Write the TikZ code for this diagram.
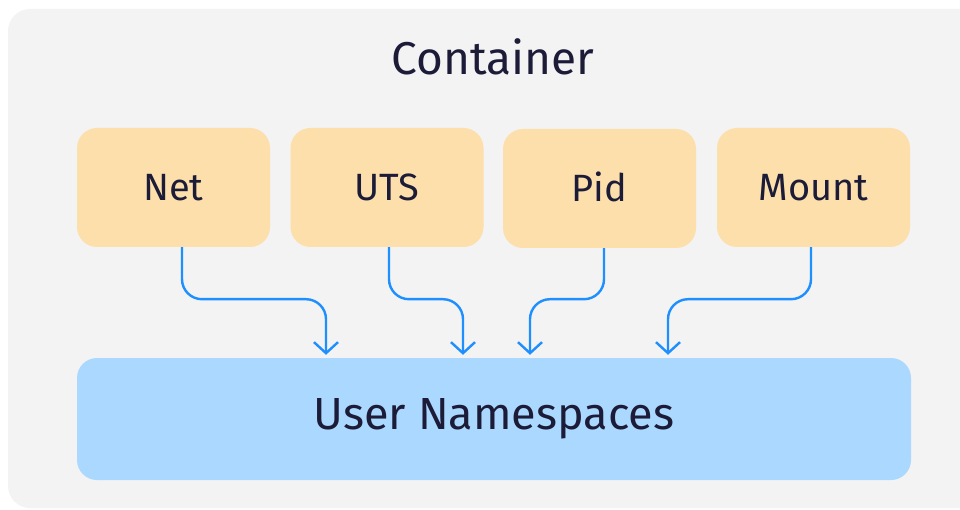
\documentclass[tikz,border=0pt]{standalone}
\usepackage{fontspec}
\setmainfont{Fira Sans}
\usetikzlibrary{arrows.meta,positioning}
\definecolor{panelgray}{HTML}{F3F3F3}
\definecolor{nsorange}{HTML}{FDDFAB}
\definecolor{userblue}{HTML}{AAD8FF}
\definecolor{arrblue}{HTML}{1E8FFF}
\definecolor{ink}{HTML}{1C1B38}

\begin{document}
\begin{tikzpicture}[
  x=1pt, y=-1pt,
  nsbox/.style = {fill=nsorange, rounded corners=20pt, minimum width=193pt,
                  minimum height=119pt, text=ink, text height=26pt, text depth=0pt,
                  font=\fontsize{38}{44}\selectfont},
  userbox/.style = {fill=userblue, rounded corners=20pt, minimum width=834pt,
                    minimum height=122pt, text=ink, font=\fontsize{45}{52}\selectfont},
  nsarr/.style = {-{Straight Barb[length=11pt,width=24pt]}, line width=2.4pt,
                  arrblue, rounded corners=20pt, shorten >=3pt},
]
\clip (0,0) rectangle (960,510);

% Container panel
\fill[panelgray, rounded corners=22pt] (8,9) rectangle (990,508);
\node[text=ink, font=\fontsize{46}{54}\selectfont] (title) at (493,57) {Container};

% Namespaces
\node[nsbox] (net)   at (173.5,187.5) {Net};
\node[nsbox] (uts)   at (387,187.5)   {UTS};
\node[nsbox] (pid)   at (599.5,188.5) {Pid};
\node[nsbox] (mount) at (813.5,187.5) {Mount};

\node[userbox] (user) at (494,419) {User Namespaces};

% Arrows
\draw[nsarr] ([xshift=8.5pt]net.south) -- ++(0,52) -| ([xshift=-168pt]user.north);
\draw[nsarr] ([xshift=2pt]uts.south) -- ++(0,52) -| ([xshift=-31pt]user.north);
\draw[nsarr] ([xshift=4.5pt]pid.south) -- ++(0,51) -| ([xshift=36pt]user.north);
\draw[nsarr] ([xshift=-2.5pt]mount.south) -- ++(0,52) -| ([xshift=174pt]user.north);
\end{tikzpicture}
\end{document}
